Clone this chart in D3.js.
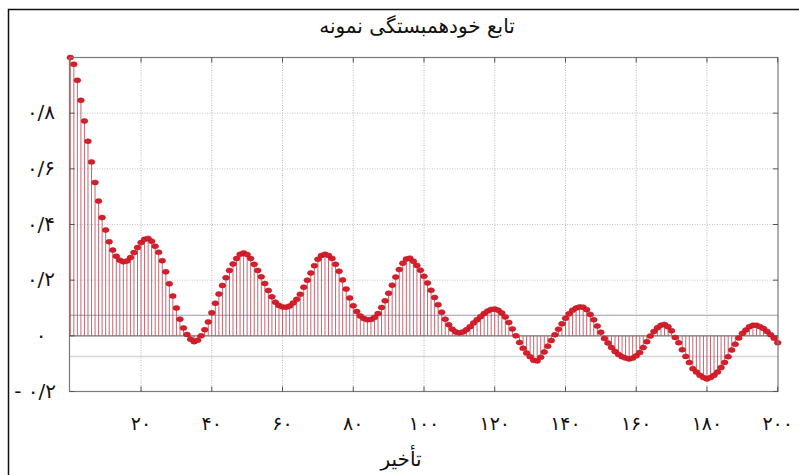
<!DOCTYPE html>
<html>
<head>
<meta charset="utf-8">
<script src="https://cdn.jsdelivr.net/npm/d3@7"></script>
<style>
  html, body { margin: 0; padding: 0; background: #fff; }
  svg { display: block; }
</style>
</head>
<body>
<svg id="chart" width="799" height="475"></svg>
<script>
// ---- data ----
const title = "تابع خودهمبستگی نمونه";
const xTitle = "تأخیر";
const acf = [
  1.000, 0.976, 0.918, 0.846, 0.772, 0.699, 0.625, 0.551, 0.484, 0.425,
  0.380, 0.338, 0.308, 0.286, 0.272, 0.266, 0.269, 0.281, 0.299, 0.317,
  0.335, 0.347, 0.350, 0.340, 0.322, 0.300, 0.270, 0.230, 0.187, 0.143,
  0.100, 0.060, 0.028, 0.005, -0.012, -0.021, -0.016, 0.000, 0.022, 0.050,
  0.083, 0.117, 0.150, 0.181, 0.209, 0.235, 0.258, 0.278, 0.293, 0.298,
  0.292, 0.278, 0.257, 0.235, 0.212, 0.188, 0.163, 0.140, 0.121, 0.109,
  0.104, 0.103, 0.107, 0.118, 0.131, 0.149, 0.175, 0.200, 0.226, 0.252,
  0.275, 0.289, 0.293, 0.289, 0.278, 0.257, 0.232, 0.201, 0.168, 0.136,
  0.108, 0.087, 0.071, 0.062, 0.058, 0.059, 0.066, 0.080, 0.102, 0.126,
  0.153, 0.182, 0.211, 0.238, 0.261, 0.276, 0.279, 0.268, 0.253, 0.236,
  0.214, 0.190, 0.164, 0.138, 0.112, 0.085, 0.060, 0.040, 0.024, 0.014,
  0.011, 0.014, 0.022, 0.033, 0.046, 0.058, 0.069, 0.080, 0.089, 0.095,
  0.096, 0.092, 0.082, 0.068, 0.048, 0.025, 0.000, -0.024, -0.045, -0.062,
  -0.075, -0.088, -0.090, -0.077, -0.058, -0.037, -0.017, 0.004, 0.024, 0.043,
  0.063, 0.079, 0.092, 0.100, 0.104, 0.103, 0.094, 0.077, 0.058, 0.035,
  0.013, -0.010, -0.026, -0.042, -0.056, -0.067, -0.075, -0.080, -0.083, -0.080,
  -0.072, -0.060, -0.042, -0.021, -0.001, 0.016, 0.029, 0.038, 0.041, 0.033,
  0.018, -0.006, -0.025, -0.050, -0.074, -0.096, -0.118, -0.130, -0.142, -0.150,
  -0.155, -0.150, -0.142, -0.130, -0.114, -0.096, -0.075, -0.051, -0.030, -0.008,
  0.009, 0.021, 0.033, 0.038, 0.038, 0.033, 0.026, 0.016, 0.004, -0.009,
  -0.025
];
const lags = acf.map((_, i) => i);
const bounds = [0.074, -0.074];
const xTicks = [20, 40, 60, 80, 100, 120, 140, 160, 180, 200];
const xTickLabels = ["۲۰", "۴۰", "۶۰", "۸۰", "۱۰۰", "۱۲۰", "۱۴۰", "۱۶۰", "۱۸۰", "۲۰۰"];
const yTicks = [-0.2, 0, 0.2, 0.4, 0.6, 0.8];
const yTickLabels = ["- ۰/۲", "۰", "۰/۲", "۰/۴", "۰/۶", "۰/۸"];
const yGrid = [0.2, 0.4, 0.6, 0.8];

// ---- drawing ----
const svg = d3.select("#chart");
const font = "'DejaVu Sans', 'Noto Sans', sans-serif";
const L = 69.5, R = 778, T = 57.5, B = 391.5;

const x = d3.scaleLinear().domain([0, 200]).range([70.3, 777.7]);
const y = d3.scaleLinear().domain([-0.2, 1.0]).range([B, T]);

// outer black frame
svg.append("rect").attr("x", 8.5).attr("y", 9.5).attr("width", 820).attr("height", 500)
  .attr("fill", "none").attr("stroke", "#111").attr("stroke-width", 1.5);

// title
svg.append("text").attr("x", 417).attr("y", 33).attr("text-anchor", "middle")
  .attr("font-family", font).attr("font-size", 20).attr("fill", "#111").text(title);

// grid
const g = svg.append("g");
g.selectAll(".vg").data(xTicks.slice(0, -1)).join("line")
  .attr("x1", d => x(d)).attr("x2", d => x(d)).attr("y1", T).attr("y2", B)
  .attr("stroke", "#b8b8b8").attr("stroke-width", 1).attr("stroke-dasharray", "1,1.5");
g.selectAll(".hg").data(yGrid).join("line")
  .attr("x1", L).attr("x2", R).attr("y1", d => y(d)).attr("y2", d => y(d))
  .attr("stroke", "#c4c4c4").attr("stroke-width", 1).attr("stroke-dasharray", "1,1.5");

// confidence bounds
g.append("line").attr("x1", L).attr("x2", R).attr("y1", y(bounds[0])).attr("y2", y(bounds[0]))
  .attr("stroke", "#9a98b8").attr("stroke-width", 1.2);
g.append("line").attr("x1", L).attr("x2", R).attr("y1", y(bounds[1])).attr("y2", y(bounds[1]))
  .attr("stroke", "#d6d6d6").attr("stroke-width", 1.5);

// stems
g.selectAll(".stem").data(lags).join("line")
  .attr("x1", d => x(d)).attr("x2", d => x(d))
  .attr("y1", y(0)).attr("y2", d => y(acf[d]))
  .attr("stroke", "#b8404c").attr("stroke-width", 0.8);

// zero line
g.append("line").attr("x1", L).attr("x2", R).attr("y1", y(0)).attr("y2", y(0))
  .attr("stroke", "#707070").attr("stroke-width", 1.2);

// axes frame
svg.append("rect").attr("x", L).attr("y", T).attr("width", R - L).attr("height", B - T)
  .attr("fill", "none").attr("stroke", "#7a7a7a").attr("stroke-width", 1.2);

// inward ticks
const tk = svg.append("g").attr("stroke", "#555").attr("stroke-width", 1);
xTicks.forEach(t => {
  tk.append("line").attr("x1", x(t)).attr("x2", x(t)).attr("y1", B).attr("y2", B - 5);
  tk.append("line").attr("x1", x(t)).attr("x2", x(t)).attr("y1", T).attr("y2", T + 5);
});
yTicks.forEach(t => {
  tk.append("line").attr("x1", L).attr("x2", L + 5).attr("y1", y(t)).attr("y2", y(t));
  tk.append("line").attr("x1", R).attr("x2", R - 5).attr("y1", y(t)).attr("y2", y(t));
});

// markers
g.selectAll(".dot").data(lags).join("ellipse")
  .attr("cx", d => x(d)).attr("cy", d => y(acf[d]))
  .attr("rx", 3.4).attr("ry", 2.5)
  .attr("fill", "#d81e2a").attr("stroke", "#b0101c").attr("stroke-width", 0.5);

// x tick labels
svg.selectAll(".xl").data(xTicks).join("text")
  .attr("x", d => x(d)).attr("y", 430)
  .attr("text-anchor", "middle").attr("direction", "ltr")
  .attr("font-family", font).attr("font-size", 19).attr("fill", "#111")
  .text((d, i) => xTickLabels[i]);

// y tick labels
svg.selectAll(".yl").data(yTicks).join("text")
  .attr("x", d => d < 0 ? 56 : 41).attr("y", d => y(d) + 6)
  .attr("text-anchor", d => d < 0 ? "end" : "middle").attr("direction", "ltr")
  .attr("font-family", font).attr("font-size", 20).attr("fill", "#111")
  .text((d, i) => yTickLabels[i]);

// x axis title
svg.append("text").attr("x", 401).attr("y", 466).attr("text-anchor", "middle")
  .attr("font-family", font).attr("font-size", 20).attr("fill", "#111").text(xTitle);
</script>
</body>
</html>
